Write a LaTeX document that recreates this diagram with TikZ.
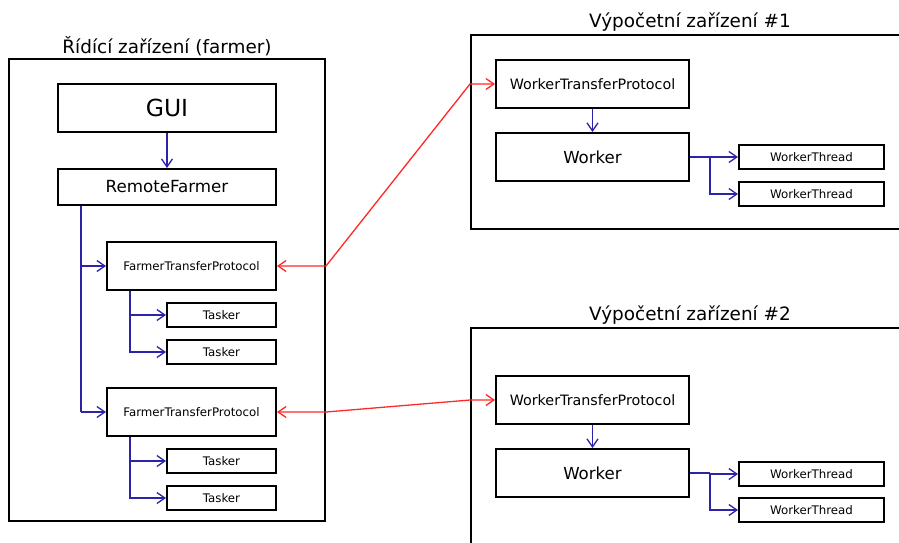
\documentclass[tikz,border=0pt]{standalone}
\usepackage{fontspec}
\setmainfont{DejaVu Sans}
\usetikzlibrary{arrows.meta,calc}
\definecolor{conblue}{RGB}{45,35,170}
\definecolor{conred}{RGB}{255,40,40}
\tikzset{
  box/.style={draw=black,line width=2pt,inner sep=0pt,minimum width=#1},
  cont/.style={draw=black,line width=2pt},
  bl/.style={draw=conblue,line width=1.3pt,-{Straight Barb[length=8pt,width=11pt,line width=1.3pt]}},
  bln/.style={draw=conblue,line width=1.3pt},
  rd/.style={draw=conred,line width=1.3pt,{Straight Barb[length=8pt,width=11pt,line width=1.3pt]}-{Straight Barb[length=8pt,width=11pt,line width=1.3pt]}},
  ttl/.style={inner sep=0pt,font=\fontsize{18.4}{22}\selectfont},
}
\begin{document}
\begin{tikzpicture}[x=1pt,y=-1pt]
\useasboundingbox (0,0) rectangle (899,542);
\fill[white] (0,0) rectangle (899,542);
\begin{scope}
\clip (0,0) rectangle (899,542);
% containers
\node[cont,inner sep=0pt,minimum width=316pt,minimum height=462pt] (farmer) at (167,290) {};
\node[cont,inner sep=0pt,minimum width=460pt,minimum height=194pt] (dev1) at (701,132) {};
\node[cont,inner sep=0pt,minimum width=460pt,minimum height=240pt] (dev2) at (701,448) {};
\end{scope}
% titles
\node[ttl] (tfarmer) at (167,46) {Řídící zařízení (farmer)};
\node[ttl] (tdev1) at (690,22) {Výpočetní zařízení \#1};
\node[ttl] (tdev2) at (690,315) {Výpočetní zařízení \#2};
% farmer side
\node[box=218pt,minimum height=48pt,font=\fontsize{23.5}{26}\selectfont] (gui) at (167,108) {GUI};
\node[box=218pt,minimum height=36pt,font=\fontsize{16.7}{19}\selectfont] (rf) at (167,187) {RemoteFarmer};
\node[box=169pt,minimum height=48pt,font=\fontsize{11.8}{14}\selectfont] (ftp1) at (191.5,266) {FarmerTransferProtocol};
\node[box=109pt,minimum height=24pt,font=\fontsize{11.8}{14}\selectfont] (t1) at (221.5,315) {Tasker};
\node[box=109pt,minimum height=24pt,font=\fontsize{11.8}{14}\selectfont] (t2) at (221.5,352) {Tasker};
\node[box=169pt,minimum height=48pt,font=\fontsize{11.8}{14}\selectfont] (ftp2) at (191.5,412) {FarmerTransferProtocol};
\node[box=109pt,minimum height=24pt,font=\fontsize{11.8}{14}\selectfont] (t3) at (221.5,461) {Tasker};
\node[box=109pt,minimum height=24pt,font=\fontsize{11.8}{14}\selectfont] (t4) at (221.5,498) {Tasker};
% device 1
\node[box=193pt,minimum height=48pt,font=\fontsize{14.3}{17}\selectfont] (wtp1) at (592.5,84) {WorkerTransferProtocol};
\node[box=193pt,minimum height=48pt,font=\fontsize{16.6}{19}\selectfont] (w1) at (592.5,157) {Worker};
\node[box=145pt,minimum height=24pt,font=\fontsize{11.8}{14}\selectfont] (wt11) at (811.5,157) {WorkerThread};
\node[box=145pt,minimum height=24pt,font=\fontsize{11.8}{14}\selectfont] (wt12) at (811.5,194) {WorkerThread};
% device 2
\node[box=193pt,minimum height=48pt,font=\fontsize{14.3}{17}\selectfont] (wtp2) at (592.5,400) {WorkerTransferProtocol};
\node[box=193pt,minimum height=48pt,font=\fontsize{16.6}{19}\selectfont] (w2) at (592.5,473) {Worker};
\node[box=145pt,minimum height=24pt,font=\fontsize{11.8}{14}\selectfont] (wt21) at (811.5,474) {WorkerThread};
\node[box=145pt,minimum height=24pt,font=\fontsize{11.8}{14}\selectfont] (wt22) at (811.5,510) {WorkerThread};
% branch coordinates
\coordinate (rfb) at ($(rf.south west)+(24,0)$);
\coordinate (f1b) at ($(ftp1.south west)+(24,0)$);
\coordinate (f2b) at ($(ftp2.south west)+(24,0)$);
\coordinate (w1b) at ($(w1.east)+(20,0)$);
\coordinate (w2b) at ($(w2.east)+(20,0)$);
% blue connectors
\draw[bl] (gui) -- (rf);
\draw[bln] (rfb) -- (rfb |- ftp2.west);
\draw[bl] (rfb |- ftp1.west) -- (ftp1.west);
\draw[bl] (rfb |- ftp2.west) -- (ftp2.west);
\draw[bl] (f1b) |- (t1.west);
\draw[bl] (f1b) |- (t2.west);
\draw[bl] (f2b) |- (t3.west);
\draw[bl] (f2b) |- (t4.west);
\draw[bl] (wtp1) -- (w1);
\draw[bl] (wtp2) -- (w2);
\draw[bln] (w1.east) -- (w1b);
\draw[bl] (w1b) |- (wt11.west);
\draw[bl] (w1b) |- (wt12.west);
\draw[bln] (w2.east) -- (w2b);
\draw[bl] (w2b) |- (wt21.west);
\draw[bl] (w2b) |- (wt22.west);
% red connectors
\draw[rd] (ftp1.east) -- (ftp1.east -| farmer.east) -- (wtp1.west -| dev1.west) -- (wtp1.west);
\draw[rd] (ftp2.east) -- (ftp2.east -| farmer.east) -- (wtp2.west -| dev2.west) -- (wtp2.west);
\end{tikzpicture}
\end{document}
